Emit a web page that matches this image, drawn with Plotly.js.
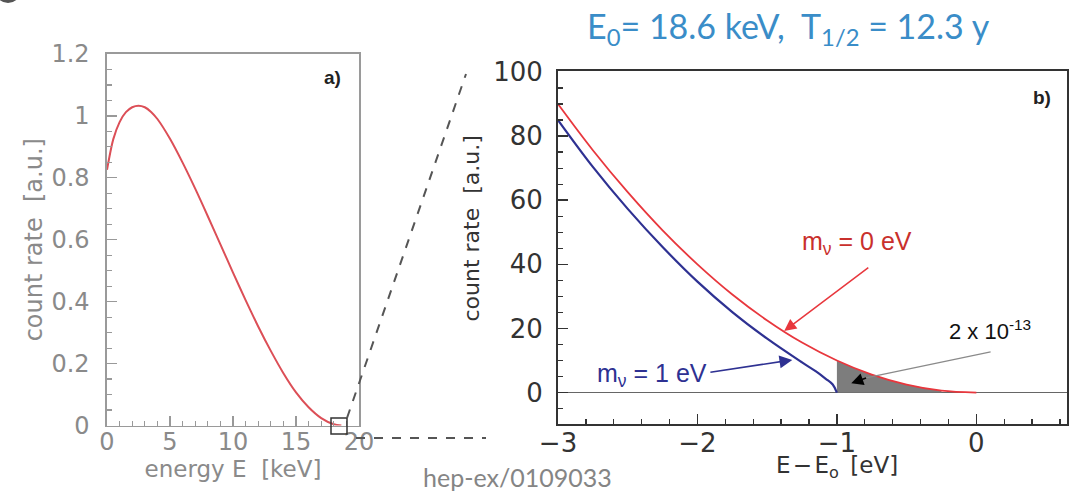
<!DOCTYPE html>
<html>
<head>
<meta charset="utf-8">
<script src="https://cdn.plot.ly/plotly-3.0.1.min.js"></script>
<style>html,body{margin:0;padding:0;background:#fff;}#chart{width:1079px;height:493px;}</style>
</head>
<body>
<div id="chart"></div>
<script>
// ---- Panel a): full tritium beta spectrum ----
const energyKeV = [0, 0.5, 1, 1.5, 2, 2.5, 3, 3.5, 4, 5, 6, 7, 8, 9, 10, 11, 12, 13, 14, 15, 16, 17, 18, 18.6];
const countRate = [0.826, 0.925, 0.98, 1.012, 1.028, 1.033, 1.028, 1.013, 0.99, 0.926, 0.849, 0.765, 0.676, 0.585, 0.494, 0.405, 0.32, 0.241, 0.169, 0.107, 0.059, 0.024, 0.004, 0];

// ---- Panel b): endpoint region ----
const endpointX = [-3, -2.75, -2.5, -2.25, -2, -1.75, -1.5, -1.25, -1, -0.75, -0.5, -0.25, 0];
const rateMass0 = [90, 75.6, 62.5, 50.6, 40, 30.6, 22.5, 15.6, 10, 5.6, 2.5, 0.6, 0];
const massiveX = [-3, -2.75, -2.5, -2.25, -2, -1.75, -1.5, -1.25, -1.15, -1.08, -1.03, -1];
const rateMass1 = [85, 70.4, 57.3, 45.4, 34.6, 25.1, 16.8, 9.4, 6.6, 4.3, 2.5, 0];

const ticksA_y = [0, 0.2, 0.4, 0.6, 0.8, 1, 1.2];
const ticksA_x = [0, 5, 10, 15, 20];
const ticksB_y = [0, 20, 40, 60, 80, 100];
const ticksB_x = [-3, -2, -1, 0];

// shaded region: part of the m=0 curve between -1 and -0.25 eV
const fillX = [], fillY = [];
endpointX.forEach((x, i) => { if (x >= -1 && x <= -0.25) { fillX.push(x); fillY.push(rateMass0[i]); } });

const W = 1079, H = 493;
const px = v => v / W, py = v => 1 - v / H;

const traces = [
  {x: energyKeV, y: countRate, xaxis: 'x', yaxis: 'y', mode: 'lines',
   line: {color: '#dc4f57', width: 2, shape: 'spline', smoothing: 0.8}, hoverinfo: 'skip'},
  {x: fillX, y: fillY, xaxis: 'x2', yaxis: 'y2', mode: 'lines', fill: 'tozeroy',
   fillcolor: '#7d7d7d', line: {width: 0, shape: 'spline'}, hoverinfo: 'skip'},
  {x: massiveX, y: rateMass1, xaxis: 'x2', yaxis: 'y2', mode: 'lines',
   line: {color: '#2e3192', width: 2.2, shape: 'spline'}, hoverinfo: 'skip'},
  {x: endpointX, y: rateMass0, xaxis: 'x2', yaxis: 'y2', mode: 'lines',
   line: {color: '#e8373d', width: 1.8, shape: 'spline'}, hoverinfo: 'skip'}
];

const fontA = {family: 'DejaVu Sans', color: '#8a8a8a'};
const fontB = {family: 'DejaVu Sans', color: '#333333'};

const layout = {
  width: W, height: H,
  margin: {l: 0, r: 0, t: 0, b: 0},
  paper_bgcolor: '#ffffff', plot_bgcolor: '#ffffff',
  showlegend: false,
  xaxis: {
    domain: [px(107), px(359)], range: [0, 20], anchor: 'y',
    tickvals: ticksA_x, ticks: 'inside', ticklen: 10, tickcolor: '#999', tickwidth: 1.3,
    minor: {dtick: 1, ticks: 'inside', ticklen: 5, tickcolor: '#999', tickwidth: 1.2},
    showline: true, mirror: true, linecolor: '#9a9a9a', linewidth: 1.6,
    showgrid: false, zeroline: false, automargin: false,
    tickfont: Object.assign({size: 24}, fontA), ticklabelstandoff: -6,
    title: {text: 'energy E  [keV]', font: Object.assign({size: 23}, fontA), standoff: 4}
  },
  yaxis: {
    domain: [py(425.5), py(54)], range: [0, 1.2], anchor: 'x',
    tickvals: ticksA_y, ticks: 'inside', ticklen: 10, tickcolor: '#999', tickwidth: 1.3,
    minor: {dtick: 0.05, ticks: 'inside', ticklen: 5, tickcolor: '#999', tickwidth: 1.2},
    showline: true, mirror: true, linecolor: '#9a9a9a', linewidth: 1.6,
    showgrid: false, zeroline: false, automargin: false,
    tickfont: Object.assign({size: 24}, fontA), ticklabelstandoff: 11,
    title: {text: 'count rate  [a.u.]', font: Object.assign({size: 24}, fontA), standoff: 2}
  },
  xaxis2: {
    domain: [px(558), px(1067)], range: [-3, 0.65], anchor: 'y2',
    tickvals: ticksB_x, ticks: 'inside', ticklen: 10, tickcolor: '#333', tickwidth: 1.5,
    minor: {dtick: 0.2, ticks: 'inside', ticklen: 5, tickcolor: '#333', tickwidth: 1.3},
    showline: true, mirror: true, linecolor: '#333', linewidth: 2,
    showgrid: false, zeroline: false, automargin: false,
    tickfont: Object.assign({size: 26}, fontB), ticklabelstandoff: -5
  },
  yaxis2: {
    domain: [py(424), py(71)], range: [-9.8, 100.3], anchor: 'x2',
    tickvals: ticksB_y, ticks: 'inside', ticklen: 10, tickcolor: '#333', tickwidth: 1.5,
    minor: {dtick: 5, ticks: 'inside', ticklen: 5, tickcolor: '#333', tickwidth: 1.3},
    showline: true, mirror: true, linecolor: '#333', linewidth: 2,
    showgrid: false, zeroline: true, zerolinecolor: '#666', zerolinewidth: 1.6, automargin: false,
    tickfont: Object.assign({size: 26}, fontB), ticklabelstandoff: 8
  },
  annotations: [
    {xref: 'paper', yref: 'paper', x: px(788), y: py(28), xanchor: 'center', yanchor: 'middle', showarrow: false,
     text: 'E<sub>0</sub>= 18.6 keV,  T<sub>1/2</sub> = 12.3 y',
     font: {family: 'Lato', size: 34, color: '#3a8dc8'}},
    {xref: 'paper', yref: 'paper', x: px(517), y: py(477), xanchor: 'center', yanchor: 'middle', showarrow: false,
     text: 'hep-ex/0109033', font: {family: 'Lato', size: 25, color: '#858585'}},
    // panel b axis titles
    {xref: 'paper', yref: 'paper', x: px(837), y: py(467), xanchor: 'center', yanchor: 'middle', showarrow: false,
     text: 'E\u200a\u2212\u200aE<sub>o</sub>\u2002[eV]', font: {family: 'DejaVu Sans', size: 23, color: '#333'}},
    {xref: 'paper', yref: 'paper', x: px(470.5), y: py(229), xanchor: 'center', yanchor: 'middle', showarrow: false,
     textangle: -90, text: 'count rate  [a.u.]', font: {family: 'DejaVu Sans', size: 22, color: '#333'}},
    {xref: 'x', yref: 'y', x: 17.9, y: 1.123, showarrow: false, text: '<b>a)</b>',
     font: {family: 'Liberation Sans', size: 19, color: '#222'}},
    {xref: 'x2', yref: 'y2', x: 0.474, y: 92.1, showarrow: false, text: '<b>b)</b>',
     font: {family: 'Liberation Sans', size: 19, color: '#222'}},
    {xref: 'x2', yref: 'y2', x: -0.854, y: 46.8, showarrow: false,
     text: 'm<sub>\u03bd</sub> = 0 eV', font: {family: 'Liberation Sans', size: 25, color: '#c9302c'}},
    {xref: 'x2', yref: 'y2', x: -2.325, y: 5.5, showarrow: false,
     text: 'm<sub>\u03bd</sub> = 1 eV', font: {family: 'Liberation Sans', size: 25, color: '#2e3192'}},
    {xref: 'x2', yref: 'y2', x: 0.101, y: 19.6, showarrow: false,
     text: '2 x 10<sup>-13</sup>', font: {family: 'Liberation Sans', size: 22, color: '#111'}},
    // arrows
    {xref: 'x2', yref: 'y2', axref: 'x2', ayref: 'y2', x: -1.378, y: 19.2, ax: -0.764, ay: 39.3,
     text: '', showarrow: true, arrowhead: 2, arrowsize: 1.6, arrowwidth: 1.5, arrowcolor: '#e8373d'},
    {xref: 'x2', yref: 'y2', axref: 'x2', ayref: 'y2', x: -1.32, y: 10.2, ax: -1.918, ay: 6.25,
     text: '', showarrow: true, arrowhead: 2, arrowsize: 1.6, arrowwidth: 1.6, arrowcolor: '#2e3192'},
    {xref: 'x2', yref: 'y2', axref: 'x2', ayref: 'y2', x: -0.80, y: 4.5, ax: 0.113, ay: 12.8,
     text: '', showarrow: true, arrowhead: 0, arrowwidth: 1.2, arrowcolor: '#8a8a8a'},
    {xref: 'x2', yref: 'y2', axref: 'x2', ayref: 'y2', x: -0.897, y: 2.9, ax: -0.78, ay: 4.7,
     text: '', showarrow: true, arrowhead: 2, arrowsize: 1.6, arrowwidth: 1.5, arrowcolor: '#000'}
  ],
  shapes: [
    {type: 'rect', xref: 'paper', yref: 'paper', x0: px(331), x1: px(347), y0: py(434), y1: py(418),
     line: {color: '#333', width: 1.5}},
    {type: 'line', xref: 'paper', yref: 'paper', x0: px(356), x1: px(486), y0: py(438), y1: py(438),
     line: {color: '#555', width: 2, dash: 'dash'}},
    {type: 'line', xref: 'paper', yref: 'paper', x0: px(347), x1: px(466), y0: py(418), y1: py(74),
     line: {color: '#555', width: 2, dash: 'dash'}},
    {type: 'circle', xref: 'paper', yref: 'paper', x0: px(-5), x1: px(21), y0: py(3), y1: py(-23),
     fillcolor: '#555', line: {width: 0}}
  ]
};

Plotly.newPlot('chart', traces, layout, {staticPlot: true, displayModeBar: false});
</script>
</body>
</html>
